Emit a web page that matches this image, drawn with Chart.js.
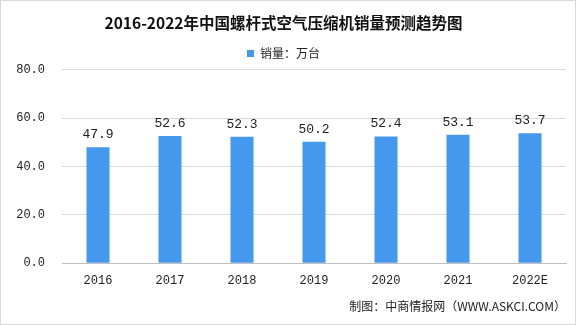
<!DOCTYPE html>
<html>
<head>
<meta charset="utf-8">
<script src="https://cdn.jsdelivr.net/npm/chart.js@4"></script>
<style>
  html, body { margin: 0; padding: 0; background: #fff; }
  #wrap { width: 574px; height: 323px; border: 1px solid #d9d9d9; }
</style>
</head>
<body>
<div id="wrap"><canvas id="myChart" width="574" height="323"></canvas></div>
<script>
// 2016-2022 screw air compressor sales (10k units)
const years = ['2016', '2017', '2018', '2019', '2020', '2021', '2022E'];
const sales = [47.9, 52.6, 52.3, 50.2, 52.4, 53.1, 53.7];
const yTicks = [0, 20, 40, 60, 80];

const cjkFont = '"Noto Sans CJK SC", sans-serif';
const numFont = '"Liberation Mono", "DejaVu Sans Mono", monospace';

// value labels above each bar
const barLabels = {
    id: 'barLabels',
    afterDatasetsDraw(chart) {
        const ctx = chart.ctx;
        const meta = chart.getDatasetMeta(0);
        ctx.save();
        ctx.font = '13px ' + numFont;
        ctx.fillStyle = '#222';
        ctx.textAlign = 'center';
        ctx.textBaseline = 'bottom';
        meta.data.forEach((bar, i) => {
            ctx.fillText(sales[i].toFixed(1), bar.x, bar.y - 6);
        });
        ctx.restore();
    }
};

const ctx = document.getElementById('myChart').getContext('2d');

new Chart(ctx, {
    type: 'bar',
    data: {
        labels: years,
        datasets: [{
            label: '销量：万台',
            data: sales,
            backgroundColor: '#4499ee',
            categoryPercentage: 1,
            barPercentage: 0.32
        }]
    },
    options: {
        responsive: false,
        animation: false,
        layout: { padding: { top: 9, left: 0, right: 9, bottom: 10 } },
        plugins: {
            title: {
                display: true,
                text: '2016-2022年中国螺杆式空气压缩机销量预测趋势图',
                color: '#111',
                font: { family: cjkFont, size: 15.5, weight: 'bold' },
                padding: { top: 4, bottom: 6 }
            },
            legend: {
                display: true,
                labels: {
                    boxWidth: 7,
                    boxHeight: 7,
                    color: '#222',
                    font: { family: cjkFont, size: 12 },
                    padding: 9
                }
            },
            subtitle: {
                display: true,
                position: 'bottom',
                align: 'end',
                text: '制图：中商情报网（WWW.ASKCI.COM）',
                color: '#222',
                font: { family: cjkFont, size: 12 },
                padding: { top: 10, bottom: 0 }
            },
            tooltip: { enabled: false }
        },
        scales: {
            x: {
                grid: { display: false },
                border: { color: '#bfbfbf' },
                ticks: { color: '#222', font: { family: numFont, size: 12 }, padding: 2 }
            },
            y: {
                min: 0,
                max: 80,
                afterBuildTicks: axis => { axis.ticks = yTicks.map(v => ({ value: v })); },
                afterFit: axis => { axis.width = 61; },
                grid: { color: '#d9d9d9', drawTicks: false },
                border: { display: false },
                ticks: {
                    color: '#222',
                    font: { family: numFont, size: 12 },
                    padding: 17,
                    callback: v => v.toFixed(1)
                }
            }
        }
    },
    plugins: [barLabels]
});
</script>
</body>
</html>
